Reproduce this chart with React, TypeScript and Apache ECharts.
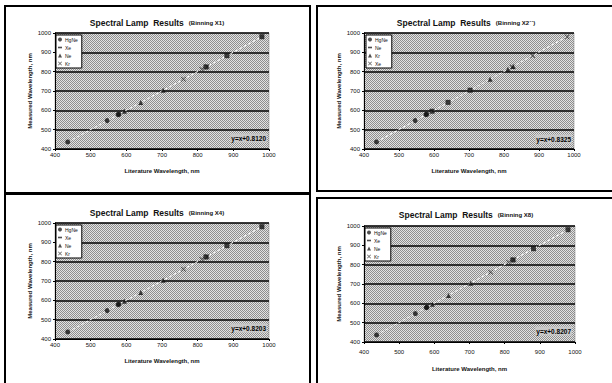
import React, { useEffect, useRef } from "react";
import * as echarts from "echarts";

// Literature wavelengths (nm)
const litHgNe = [435.8, 546.1, 577.0, 579.1];
const litNe = [594.5, 640.2, 703.2];
const litKr = [760.2, 811.3, 826.3];
const litXe = [823.2, 881.9, 980.0];

// Measured wavelengths per binning
const hgne1 = [436.6, 546.9, 577.8, 579.9];
const ne1 = [595.3, 641.0, 704.0];
const kr1 = [761.0, 812.1, 827.1];
const xe1 = [824.0, 882.7, 980.8];

const hgne2 = [436.7, 546.9, 577.9, 579.9];
const ne2 = [595.3, 641.1, 704.0];
const kr2 = [761.1, 812.1, 827.2];
const xe2 = [824.0, 882.8, 980.8];

const hgne4 = [436.6, 546.9, 577.8, 580.0];
const ne4 = [595.3, 641.0, 704.1];
const kr4 = [761.0, 812.1, 827.1];
const xe4 = [824.0, 882.7, 980.8];

const hgne8 = [436.6, 547.0, 577.8, 579.9];
const ne8 = [595.3, 641.0, 704.0];
const kr8 = [761.0, 812.2, 827.1];
const xe8 = [824.1, 882.7, 980.8];

const binningLabels = ["(Binning X1)", "(Binning X2\u00b4\u00b4)", "(Binning X4)", "(Binning X8)"];
const equations = ["y=x+0.8120", "y=x+0.8325", "y=x+0.8203", "y=x+0.8207"];
const fitOffsets = [0.812, 0.8325, 0.8203, 0.8207];
const trendRange = [435.8, 980.0];
const legendOrders = [
  ["HgNe", "Xe", "Ne", "Kr"],
  ["HgNe", "Ne", "Kr", "Xe"],
  ["HgNe", "Xe", "Ne", "Kr"],
  ["HgNe", "Xe", "Ne", "Kr"],
];
const axisTicks = [400, 1000, 100];

const FONT = "Liberation Sans";

const pair = (xs: number[], ys: number[]) => xs.map((x, i) => [x, ys[i]]);

export default function App() {
  const ref = useRef<HTMLDivElement>(null);
  useEffect(() => {
    if (!ref.current) return;
    const chart = echarts.init(ref.current, null, { renderer: "svg" });

    const cv = document.createElement("canvas");
    cv.width = 2;
    cv.height = 2;
    const ctx = cv.getContext("2d")!;
    ctx.fillStyle = "#e2e2e2";
    ctx.fillRect(0, 0, 2, 2);
    ctx.fillStyle = "#8e8e8e";
    ctx.fillRect(0, 0, 1, 1);
    ctx.fillRect(1, 1, 1, 1);
    const pattern: any = { image: cv, repeat: "repeat", imageWidth: 2, imageHeight: 2 };

    const measured = [
      { HgNe: hgne1, Ne: ne1, Kr: kr1, Xe: xe1 },
      { HgNe: hgne2, Ne: ne2, Kr: kr2, Xe: xe2 },
      { HgNe: hgne4, Ne: ne4, Kr: kr4, Xe: xe4 },
      { HgNe: hgne8, Ne: ne8, Kr: kr8, Xe: xe8 },
    ];
    const lit: Record<string, number[]> = { HgNe: litHgNe, Ne: litNe, Kr: litKr, Xe: litXe };

    const grids = [
      { left: 55, top: 33, width: 214, height: 116 },
      { left: 364, top: 33, width: 210, height: 116 },
      { left: 55, top: 223, width: 214, height: 116 },
      { left: 364, top: 226, width: 211, height: 116 },
    ];
    const titleCenters = [
      [157, 14],
      [466, 14],
      [157, 204],
      [466, 206],
    ];
    const legendPos = [
      [56, 35],
      [366, 35],
      [56, 225],
      [365, 228],
    ];
    const eqPos = [
      [267, 138],
      [572, 139],
      [267, 328],
      [572, 331],
    ];
    const symbols = [
      "circle",
      "path://M0,3L10,3L10,7L0,7Z",
      "triangle",
      "path://M1,0L5,4L9,0L10,1L6,5L10,9L9,10L5,6L1,10L0,9L4,5L0,1Z",
    ];

    const series: any[] = [];
    const legends: any[] = [];
    grids.forEach((g, p) => {
      const order = legendOrders[p];
      order.forEach((name, k) => {
        series.push({
          type: "scatter",
          name,
          xAxisIndex: p,
          yAxisIndex: p,
          data: pair(lit[name], (measured[p] as any)[name]),
          symbol: symbols[k],
          symbolSize: 5,
          itemStyle: { color: "#111", borderWidth: 0 },
          z: 5,
        });
      });
      series.push({
        type: "line",
        xAxisIndex: p,
        yAxisIndex: p,
        data: trendRange.map((x) => [x, x + fitOffsets[p]]),
        symbol: "none",
        lineStyle: { color: "#ffffff", width: 1, type: [3, 2] },
        silent: true,
        z: 4,
      });
      legends.push({
        left: legendPos[p][0],
        top: legendPos[p][1],
        orient: "vertical",
        data: order.map((n, k) => ({ name: n, icon: symbols[k] })),
        itemWidth: 4,
        itemHeight: 4,
        itemGap: 3,
        itemStyle: { color: "#222", borderWidth: 0 },
        padding: [2, 4, 2, 2],
        backgroundColor: "#ffffff",
        borderColor: "#000",
        borderWidth: 1,
        borderRadius: 0,
        textStyle: { fontSize: 5, color: "#111", fontFamily: FONT, padding: [0, 0, 0, -2] },
        selectedMode: false,
      });
    });

    const fmt = (v: number) => String(v);
    const axisLabel = { fontSize: 6, color: "#111", fontFamily: FONT, margin: 3, formatter: fmt };
    const nameStyle = { fontSize: 6, fontWeight: "bold" as const, color: "#111", fontFamily: FONT };

    const option: any = {
      animation: false,
      title: titleCenters.map((c, p) => ({
        left: c[0],
        top: c[1],
        padding: 0,
        textAlign: "center",
        text: `{a|Spectral Lamp  Results} {b|${binningLabels[p]}}`,
        textStyle: {
          rich: {
            a: { fontSize: 8.5, fontWeight: "bold", color: "#111", fontFamily: FONT },
            b: { fontSize: 6, fontWeight: "bold", color: "#111", fontFamily: FONT },
          },
        },
      })),
      legend: legends,
      grid: grids.map((g) => ({
        ...g,
        show: true,
        backgroundColor: pattern,
        borderColor: "#777",
        borderWidth: 0.5,
      })),
      xAxis: grids.map((_, p) => ({
        type: "value",
        gridIndex: p,
        min: axisTicks[0],
        max: axisTicks[1],
        interval: axisTicks[2],
        name: "Literature Wavelength, nm",
        nameLocation: "middle",
        nameGap: p === 3 ? 24 : 19,
        nameTextStyle: nameStyle,
        axisLine: { show: true, onZero: false, lineStyle: { color: "#000", width: 1 } },
        axisTick: { show: true, length: 2, lineStyle: { color: "#000" } },
        axisLabel: { ...axisLabel, margin: p === 3 ? 7 : 3 },
        splitLine: { show: false },
      })),
      yAxis: grids.map((_, p) => ({
        type: "value",
        gridIndex: p,
        min: axisTicks[0],
        max: axisTicks[1],
        interval: axisTicks[2],
        name: "Measured Wavelength, nm",
        nameLocation: "middle",
        nameGap: 22,
        nameTextStyle: nameStyle,
        axisLine: { show: true, onZero: false, lineStyle: { color: "#000", width: 1 } },
        axisTick: { show: true, length: 2, lineStyle: { color: "#000" } },
        axisLabel: { ...axisLabel, margin: 4 },
        splitLine: { show: true, lineStyle: { color: "#000", width: 1.6 } },
      })),
      series,
      graphic: [
        { type: "rect", shape: { x: 5, y: 6, width: 305, height: 187 }, style: { fill: "none", stroke: "#000", lineWidth: 2 } },
        { type: "rect", shape: { x: 317, y: 6, width: 300, height: 185 }, style: { fill: "none", stroke: "#000", lineWidth: 2 } },
        { type: "rect", shape: { x: 5, y: 194, width: 305, height: 195 }, style: { fill: "none", stroke: "#000", lineWidth: 2 } },
        { type: "rect", shape: { x: 317, y: 198, width: 300, height: 195 }, style: { fill: "none", stroke: "#000", lineWidth: 2 } },
        ...eqPos.map((e, p) => ({
          type: "text",
          x: e[0],
          y: e[1],
          z: 10,
          style: {
            text: equations[p],
            align: "right",
            verticalAlign: "middle",
            font: `bold 6.5px ${FONT}`,
            fill: "#000",
            backgroundColor: "#c8c8c8",
            padding: [1, 1],
          },
        })),
      ],
    };
    chart.setOption(option);
    return () => chart.dispose();
  }, []);
  return (
    <div
      ref={ref}
      style={{ position: "fixed", left: 0, top: 0, width: 612, height: 383, background: "#fff" }}
    />
  );
}
